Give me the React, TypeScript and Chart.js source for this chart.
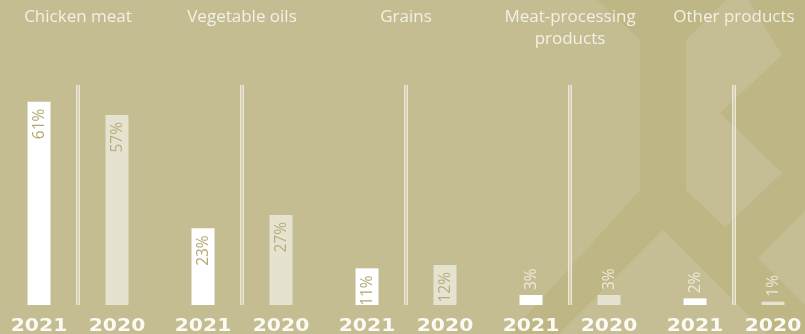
import { useEffect, useRef } from "react";
import { Chart, registerables } from "chart.js";

Chart.register(...registerables);

const categories: string[][] = [
  ["Chicken meat"],
  ["Vegetable oils"],
  ["Grains"],
  ["Meat-processing", "products"],
  ["Other products"],
];
const years = ["2021", "2020"];
const values2021 = [61, 23, 11, 3, 2];
const values2020 = [57, 27, 12, 3, 1];
const yMax = 66;

const BG = "#c4bd92";
const BG_DARK = "#beb685";
const BG_LIGHT = "#c5be94";
const BAR_2021 = "#ffffff";
const BAR_2020 = "#e6e2d0";
const TITLE_COLOR = "#f3f0e6";
const YEAR_COLOR = "#fbfaf4";
const SEP_COLOR = "#ece8d7";
const SHIFT = -4;

// decorative background shapes (page coordinates)
const shapes: { c: string; p: number[][] }[] = [
  { c: BG_DARK, p: [[597, 0], [805, 0], [805, 334], [510, 334], [640, 190], [640, 40]] },
  { c: BG_LIGHT, p: [[686, 40], [726, 0], [748, 0], [782, 55], [720, 113], [782, 173], [725, 227], [686, 190]] },
  { c: BG_LIGHT, p: [[663, 230], [767, 334], [559, 334]] },
  { c: BG_LIGHT, p: [[758, 258], [805, 211], [805, 305]] },
];

const bgPlugin = {
  id: "bgPlugin",
  beforeDraw(chart: any) {
    const { ctx, width, height } = chart;
    ctx.save();
    ctx.fillStyle = BG;
    ctx.fillRect(0, 0, width, height);
    ctx.translate(-SHIFT, 0);
    for (const s of shapes) {
      ctx.fillStyle = s.c;
      ctx.beginPath();
      s.p.forEach(([x, y], i) => (i ? ctx.lineTo(x, y) : ctx.moveTo(x, y)));
      ctx.closePath();
      ctx.fill();
    }
    ctx.restore();
  },
};

const sepPlugin = {
  id: "sepPlugin",
  beforeDatasetsDraw(chart: any) {
    const { ctx, chartArea } = chart;
    const xs = chart.scales.x;
    ctx.save();
    for (let i = 0; i < categories.length; i++) {
      const cx = Math.round(xs.getPixelForValue(i));
      const h = chartArea.bottom - chartArea.top;
      ctx.fillStyle = "rgba(236,232,214,0.5)";
      ctx.fillRect(cx - 2, chartArea.top, 4, h);
      ctx.fillStyle = SEP_COLOR;
      ctx.fillRect(cx - 2, chartArea.top, 1, h);
      ctx.fillRect(cx + 1, chartArea.top, 1, h);
    }
    ctx.restore();
  },
};

const labelPlugin = {
  id: "labelPlugin",
  afterDatasetsDraw(chart: any) {
    const { ctx } = chart;
    ctx.save();
    chart.data.datasets.forEach((ds: any, di: number) => {
      const meta = chart.getDatasetMeta(di);
      meta.data.forEach((bar: any, i: number) => {
        const { x, y, base } = bar.getProps(["x", "y", "base"], true);
        const v = ds.data[i];
        // year label
        ctx.save();
        ctx.translate(x, base + 25.5);
        ctx.scale(1.13, 1);
        ctx.font = "bold 18px 'DejaVu Sans'";
        ctx.fillStyle = YEAR_COLOR;
        ctx.textAlign = "center";
        ctx.textBaseline = "alphabetic";
        ctx.fillText(ds.label, 0, 0);
        ctx.restore();
        // value label
        ctx.save();
        ctx.font = "400 15.5px 'Open Sans'";
        ctx.textBaseline = "middle";
        if (v >= 10) {
          ctx.translate(x + 1, y + 7);
          ctx.rotate(-Math.PI / 2);
          ctx.textAlign = "right";
          ctx.fillStyle = di === 0 ? "#b2a974" : "#b6ad7e";
        } else {
          ctx.translate(x + 1, y - 5);
          ctx.rotate(-Math.PI / 2);
          ctx.textAlign = "left";
          ctx.fillStyle = "#ede9da";
        }
        ctx.fillText(v + "%", 0, 0);
        ctx.restore();
      });
    });
    ctx.restore();
  },
};

export default function App() {
  const ref = useRef<HTMLCanvasElement>(null);
  useEffect(() => {
    document.body.style.margin = "0";
    document.body.style.overflow = "hidden";
    if (!ref.current) return;
    const chart = new Chart(ref.current, {
      type: "bar",
      data: {
        labels: categories,
        datasets: [
          { label: years[0], data: values2021, backgroundColor: BAR_2021, borderWidth: 0 },
          { label: years[1], data: values2020, backgroundColor: BAR_2020, borderWidth: 0 },
        ],
      },
      options: {
        animation: false,
        responsive: true,
        maintainAspectRatio: false,
        categoryPercentage: 0.951,
        barPercentage: 0.295,
        layout: { padding: { top: 0, bottom: 29, left: 0, right: 0 } },
        plugins: { legend: { display: false }, tooltip: { enabled: false } },
        scales: {
          x: {
            position: "top",
            grid: { display: false, drawTicks: false },
            border: { display: false },
            ticks: {
              color: TITLE_COLOR,
              font: { family: "'Open Sans'", size: 17, weight: "400", lineHeight: 1.3 },
              padding: 35,
              crossAlign: "far",
              maxRotation: 0,
              autoSkip: false,
            },
            afterFit: (scale: any) => {
              scale.height = 85;
              scale.paddingLeft = 0;
              scale.paddingRight = 0;
            },
          },
          y: { display: false, min: 0, max: yMax },
        },
      } as any,
      plugins: [bgPlugin, sepPlugin, labelPlugin],
    });
    return () => chart.destroy();
  }, []);
  return (
    <div style={{ position: "relative", width: 805, height: 334, overflow: "hidden", background: BG }}>
      <div style={{ position: "absolute", left: SHIFT, top: 0, width: 820, height: 334 }}>
        <canvas ref={ref} />
      </div>
    </div>
  );
}
